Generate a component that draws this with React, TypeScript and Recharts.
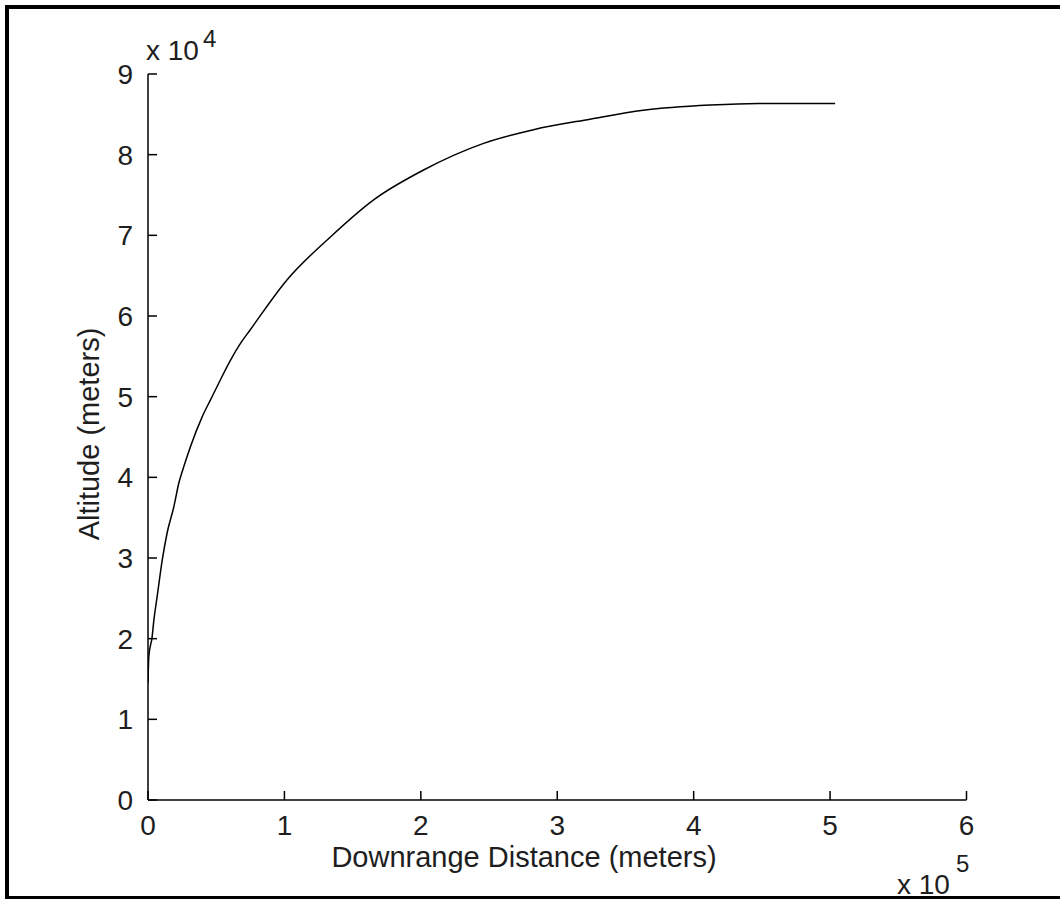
import React from "react";
import { LineChart, Line, XAxis, YAxis } from "recharts";

const downrange = [0, 600, 3000, 4300, 6700, 10400, 14000, 19000, 22600, 26200, 31100, 39700, 45800, 53100, 60400, 67800, 75000, 102000, 133700, 165400, 202000, 246000, 282600, 324000, 363000, 412000, 447500, 503700];
const altitude = [14500, 17800, 20200, 22300, 25200, 29700, 33100, 36400, 39300, 41300, 43800, 47500, 49600, 52100, 54500, 56600, 58300, 64500, 69800, 74400, 78100, 81400, 83100, 84400, 85500, 86150, 86350, 86350];
const xTicks = [0, 100000, 200000, 300000, 400000, 500000, 600000];
const yTicks = [0, 10000, 20000, 30000, 40000, 50000, 60000, 70000, 80000, 90000];
const xLabel = "Downrange Distance (meters)";
const yLabel = "Altitude (meters)";

const data = downrange.map((d, i) => ({ x: d, y: altitude[i] }));

const FONT = "'Liberation Sans', Arial, Helvetica, sans-serif";
const TXT = "#1e1e1e";

export default function App() {
  return (
    <div style={{ position: "absolute", left: 0, top: 0, width: 1060, height: 899, background: "#fff", overflow: "hidden" }}>
      <LineChart width={1060} height={899} data={data} margin={{ top: 74, right: 93.5, bottom: 69, left: 88 }}>
        <XAxis
          dataKey="x"
          type="number"
          domain={[0, 600000]}
          ticks={xTicks}
          tickFormatter={(v: number) => String(v / 100000)}
          height={30}
          axisLine={{ stroke: "#000", strokeWidth: 1.5 }}
          tickLine={{ stroke: "#000", strokeWidth: 1.5 }}
          tickSize={-9}
          tickMargin={24}
          tick={{ fill: TXT, fontSize: 28, fontFamily: FONT }}
          allowDataOverflow
        />
        <YAxis
          dataKey="y"
          type="number"
          domain={[0, 90000]}
          ticks={yTicks}
          tickFormatter={(v: number) => String(v / 10000)}
          width={60}
          axisLine={{ stroke: "#000", strokeWidth: 1.5 }}
          tickLine={{ stroke: "#000", strokeWidth: 1.5 }}
          tickSize={-9}
          tickMargin={24}
          tick={{ fill: TXT, fontSize: 28, fontFamily: FONT }}
          allowDataOverflow
        />
        <Line type="monotone" dataKey="y" stroke="#000" strokeWidth={1.5} dot={false} isAnimationActive={false} />
      </LineChart>
      <svg width={1060} height={899} style={{ position: "absolute", left: 0, top: 0, pointerEvents: "none" }}>
        <text x={99} y={434} transform="rotate(-90 99 434)" textAnchor="middle" fill={TXT} fontSize={29} fontFamily={FONT}>{yLabel}</text>
        <text x={524} y={867} textAnchor="middle" fill={TXT} fontSize={29} fontFamily={FONT}>{xLabel}</text>
        <text x={146} y={60} fill={TXT} fontSize={28} fontFamily={FONT}>x 10</text>
        <text x={203} y={47} fill={TXT} fontSize={24} fontFamily={FONT}>4</text>
        <text x={897} y={894} fill={TXT} fontSize={28} fontFamily={FONT}>x 10</text>
        <text x={956} y={872} fill={TXT} fontSize={24} fontFamily={FONT}>5</text>
      </svg>
      <div style={{ position: "absolute", left: 5, top: 5, width: 4, height: 894, background: "#000" }} />
      <div style={{ position: "absolute", left: 5, top: 5, width: 1055, height: 4, background: "#000" }} />
      <div style={{ position: "absolute", left: 5, top: 896, width: 1055, height: 3, background: "#000" }} />
    </div>
  );
}
